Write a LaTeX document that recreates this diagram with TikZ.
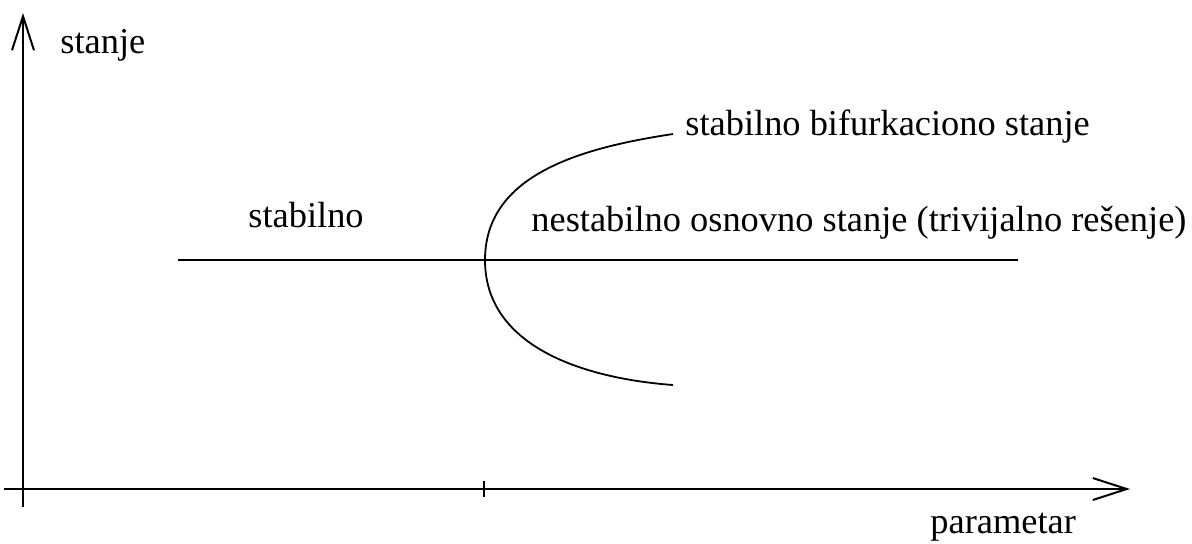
\documentclass[tikz,border=0pt]{standalone}
\usepackage{fontspec}
\setmainfont{Liberation Serif}
\usetikzlibrary{arrows.meta}
\begin{document}
\begin{tikzpicture}[x=0.5pt,y=-0.5pt,
  axis/.style={line width=1pt,-{Straight Barb[length=17pt,width=11pt,line width=1pt]}},
  lbl/.style={anchor=base west,inner sep=0pt,font=\fontsize{18.2pt}{21pt}\selectfont},
  thin/.style={line width=0.9pt}]
\useasboundingbox (0,0) rectangle (1192,543);
% axes
\coordinate (yb) at (23,507);
\coordinate (yt) at (23,13);
\coordinate (xl) at (4,489);
\coordinate (xr) at (1130,489);
\draw[axis] (yb) -- (yt);
\draw[axis] (xl) -- (xr);
% tick
\coordinate (t1) at (484,481);
\coordinate (t2) at (484,497);
\draw[thin] (t1) -- (t2);
% trivial solution line
\coordinate (ha) at (178,260);
\coordinate (hb) at (1018,260);
\draw[thin] (ha) -- (hb);
% bifurcation branch
\coordinate (ctop) at (673,134);
\coordinate (cv) at (485,260);
\coordinate (cbot) at (673,385);
\draw[thin] (ctop) .. controls (580,148) and (485,175) .. (cv)
  .. controls (485,345) and (580,378) .. (cbot);
% labels
\node[lbl] (stanje) at (60,53) {stanje};
\node[lbl] (bif) at (685,135) {stabilno bifurkaciono stanje};
\node[lbl] (stab) at (248,227) {stabilno};
\node[lbl] (nest) at (531,231) {nestabilno osnovno stanje (trivijalno rešenje)};
\node[lbl] (param) at (930,533) {parametar};
\end{tikzpicture}
\end{document}
